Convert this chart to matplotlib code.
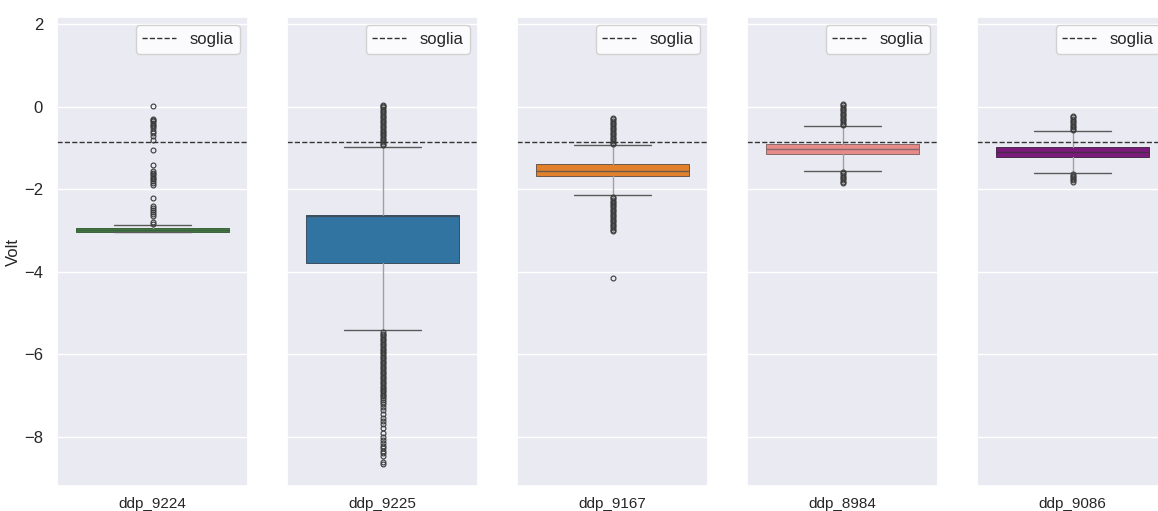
import matplotlib
matplotlib.use("Agg")
import matplotlib.pyplot as plt
import seaborn as sns

sns.set_theme(style="darkgrid")
plt.rcParams['font.family'] = ['Liberation Sans', 'DejaVu Sans']

sensors = ['ddp_9224', 'ddp_9225', 'ddp_9167', 'ddp_8984', 'ddp_9086']
colors = ['#467a46', '#3274a1', '#e1812c', '#e68a8a', '#7a1a7a']
edge_colors = ['#3b633b', '#3d4f5e', '#6a5a4a', '#8a6a6a', '#4a2a4a']
soglia = -0.85

# box statistics per sensor (Volt)
q1 = [-3.04, -3.78, -1.69, -1.14, -1.23]
med = [-2.99, -2.64, -1.57, -1.02, -1.10]
q3 = [-2.94, -2.63, -1.38, -0.90, -0.97]
whis_lo = [-3.04, -5.42, -2.15, -1.55, -1.60]
whis_hi = [-2.88, -0.98, -0.92, -0.46, -0.58]

fliers_9224 = [0.02, -0.30, -0.33, -0.36, -0.40, -0.44, -0.48, -0.52, -0.58,
               -0.64, -0.72, -0.80, -1.05, -1.42, -1.55, -1.60, -1.64, -1.68,
               -1.72, -1.76, -1.80, -1.85, -1.90, -2.22, -2.40, -2.45, -2.50,
               -2.55, -2.60, -2.66, -2.80, -2.85]
fliers_9225 = [0.05, 0.02, -0.02, -0.06, -0.10, -0.14, -0.18, -0.22, -0.26,
               -0.30, -0.34, -0.38, -0.42, -0.46, -0.50, -0.54, -0.58, -0.62,
               -0.66, -0.70, -0.74, -0.78, -0.82, -0.86, -0.90, -0.94,
               -5.46, -5.50, -5.54, -5.58, -5.62, -5.66, -5.70, -5.74, -5.78,
               -5.82, -5.86, -5.90, -5.94, -5.98, -6.02, -6.06, -6.10, -6.14,
               -6.18, -6.22, -6.26, -6.30, -6.34, -6.38, -6.42, -6.46, -6.50,
               -6.54, -6.58, -6.62, -6.66, -6.70, -6.74, -6.78, -6.82, -6.86,
               -6.90, -6.94, -6.98, -7.02, -7.06, -7.10, -7.15, -7.20, -7.28,
               -7.36, -7.45, -7.55, -7.62, -7.70, -7.78, -7.90, -8.00, -8.08,
               -8.15, -8.22, -8.28, -8.34, -8.40, -8.46, -8.60, -8.66]
fliers_9167 = [-0.27, -0.31, -0.35, -0.39, -0.43, -0.47, -0.51, -0.55, -0.59,
               -0.63, -0.67, -0.71, -0.75, -0.79, -0.83, -0.87, -0.90,
               -2.18, -2.22, -2.26, -2.30, -2.34, -2.38, -2.42, -2.46, -2.50,
               -2.54, -2.58, -2.62, -2.66, -2.70, -2.74, -2.78, -2.82, -2.86,
               -2.90, -2.94, -2.98, -3.02, -4.14]
fliers_8984 = [0.07, 0.03, -0.01, -0.05, -0.09, -0.13, -0.17, -0.21, -0.25,
               -0.29, -0.33, -0.37, -0.41, -0.44,
               -1.58, -1.62, -1.66, -1.70, -1.74, -1.78, -1.82, -1.86]
fliers_9086 = [-0.22, -0.26, -0.30, -0.34, -0.38, -0.42, -0.46, -0.50, -0.54,
               -0.57, -1.63, -1.67, -1.71, -1.75, -1.79, -1.82]
fliers = [fliers_9224, fliers_9225, fliers_9167, fliers_8984, fliers_9086]

W, H = 1158, 511
fig = plt.figure(figsize=(W / 100, H / 100), dpi=100)

for i, name in enumerate(sensors):
    left = 57 + 230 * i
    ax = fig.add_axes([left / W, (H - 486) / H, 191 / W, 469 / H])
    stats = [dict(med=med[i], q1=q1[i], q3=q3[i], whislo=whis_lo[i],
                  whishi=whis_hi[i], fliers=fliers[i], label=name)]
    ax.bxp(stats, positions=[0], widths=0.8, capwidths=0.4, patch_artist=True,
           boxprops=dict(facecolor=colors[i], edgecolor=edge_colors[i], linewidth=0.7),
           medianprops=dict(color=edge_colors[i], linewidth=1),
           whiskerprops=dict(color='#a0a0a0', linewidth=1),
           capprops=dict(color='#5a5a5a', linewidth=1),
           flierprops=dict(marker='o', markersize=3.5, markerfacecolor='none',
                           markeredgecolor='#3a3a3a', markeredgewidth=0.8))
    ax.axhline(soglia, color='#333333', linestyle='--', linewidth=1, label='soglia')
    ax.set_xlim(-0.5, 0.5)
    ax.set_ylim(-9.19, 2.17)
    ax.set_yticks([2, 0, -2, -4, -6, -8])
    ax.set_xticks([0])
    ax.set_xticklabels([name], fontsize=11)
    ax.xaxis.grid(False)
    ax.tick_params(axis='x', pad=2)
    ax.tick_params(axis='y', labelsize=12, pad=4)
    if i == 0:
        ax.set_ylabel('Volt', fontsize=12, labelpad=2)
    else:
        ax.set_yticklabels([])
    leg = ax.legend(loc='upper right', fontsize=12, framealpha=0.85)
    leg.get_frame().set_facecolor('white')

fig.savefig('out.png', dpi=100)
